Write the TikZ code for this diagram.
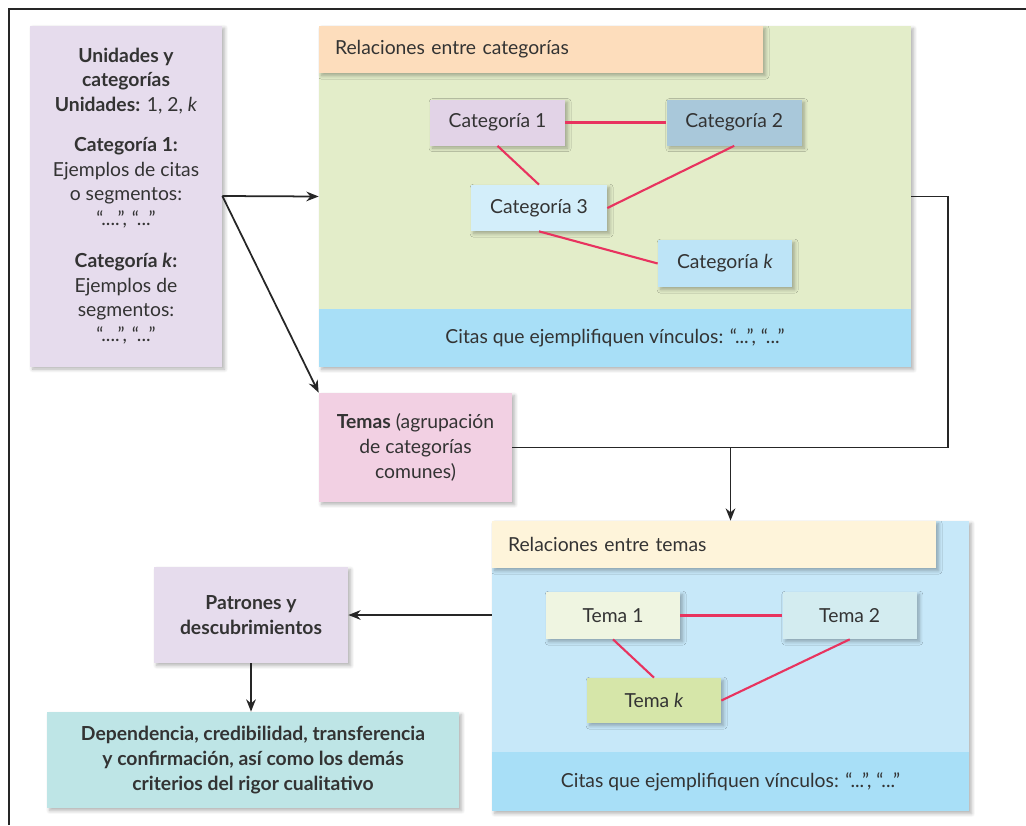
\documentclass[tikz,border=0pt]{standalone}
\usepackage{fontspec}
\setmainfont{Lato}
\usetikzlibrary{arrows.meta, positioning, shadows.blur}

\definecolor{ink}{HTML}{333333}
\definecolor{lila}{HTML}{E6DCED}
\definecolor{greenbg}{HTML}{E3EDC9}
\definecolor{peach}{HTML}{FDDDBC}
\definecolor{stripblue}{HTML}{A8DFF7}
\definecolor{catone}{HTML}{E2D3E7}
\definecolor{cattwo}{HTML}{A9C8DA}
\definecolor{catthree}{HTML}{D3EEFA}
\definecolor{catk}{HTML}{BDE4F7}
\definecolor{rosa}{HTML}{F2D0E3}
\definecolor{bluebg}{HTML}{C7E8F9}
\definecolor{cream}{HTML}{FEF4DA}
\definecolor{temone}{HTML}{EFF5E1}
\definecolor{temtwo}{HTML}{D3ECF0}
\definecolor{temk}{HTML}{D6E6A9}
\definecolor{teal}{HTML}{BEE5E6}
\definecolor{pinkline}{HTML}{E8335F}

\begin{document}
\begin{tikzpicture}[x=0.02cm, y=-0.02cm, >={Stealth[length=7pt, width=5.5pt]},
    font=\fontsize{11}{14}\selectfont,
    wh/.style 2 args={minimum width=#1*0.02cm, minimum height=#2*0.02cm},
    flat/.style={fill=#1, inner sep=0pt, align=center, text=ink},
    box/.style={flat=#1, blur shadow={shadow xshift=1.5pt, shadow yshift=-1.5pt,
        shadow blur steps=6, shadow opacity=30}},
    head/.style={box=#1, align=left, inner xsep=0.32cm, text width=8.24cm,
        minimum height=0.94cm},
    link/.style={draw=pinkline, line width=1.2pt},
    flow/.style={draw=black!85, line width=1pt, ->}]
    \useasboundingbox (0,0) rectangle (1026,825);
    \draw[line width=1.2pt, black!85] (9,825) -- (9,9) -- (1026,9);

    % left column
    \node[box=lila, wh={192}{341}] (units) at (126,196) {%
        \textbf{Unidades y}\\ \textbf{categorías}\\ \textbf{Unidades:} 1, 2, \textit{k}\\[9pt]
        \textbf{Categoría 1:}\\ Ejemplos de citas\\ o segmentos:\\ “....”, “...”\\[10pt]
        \textbf{Categoría \textit{k}:}\\ Ejemplos de\\ segmentos:\\ “....”, “...”};

    % relaciones entre categorias
    \node[box=greenbg, wh={592}{341}] (relcat) at (615,196.5) {};
    \node[flat=stripblue, wh={592}{58}, anchor=south] (citcat) at (relcat.south)
        {Citas que ejemplifiquen vínculos: “...”, “...”};
    \node[head=peach, anchor=north west] (hcat) at (relcat.north west) {Relaciones entre categorías};
    \node[box=catone, wh={135}{46}] (cat1) at (497.5,122.5) {Categoría 1};
    \node[box=cattwo, wh={135}{46}, right=2.02cm of cat1] (cat2) {Categoría 2};
    \node[box=catthree, wh={136}{46}] (cat3) at (539,208) {Categoría 3};
    \node[box=catk, wh={134}{47}] (catk) at (725,263.5) {Categoría \textit{k}};

    \node[box=rosa, wh={193}{109}] (temas) at (415.5,447.5)
        {\textbf{Temas} (agrupación\\ de categorías\\ comunes)};

    % relaciones entre temas
    \node[box=bluebg, wh={477}{290}] (reltem) at (730.5,666) {};
    \node[flat=stripblue, wh={477}{59}, anchor=south] (citem) at (reltem.south)
        {Citas que ejemplifiquen vínculos: “...”, “...”};
    \node[head=cream, anchor=north west] (htem) at (reltem.north west) {Relaciones entre temas};
    \node[box=temone, wh={134}{47}] (tema1) at (613,615.5) {Tema 1};
    \node[box=temtwo, wh={134}{47}, right=2.04cm of tema1] (tema2) {Tema 2};
    \node[box=temk, wh={134}{45}] (temak) at (654,700.5) {Tema \textit{k}};

    \node[box=lila, wh={194}{96}] (patr) at (251,615) {\textbf{Patrones y}\\ \textbf{descubrimientos}};
    \node[box=teal, wh={412}{96}] (dep) at (253,760)
        {\textbf{Dependencia, credibilidad, transferencia}\\
         \textbf{y confirmación, así como los demás}\\
         \textbf{criterios del rigor cualitativo}};

    % links
    \draw[link, line width=1.7pt] (cat1.east) -- (cat2.west);
    \draw[link] (cat1.south) -- (cat3.north);
    \draw[link] (cat2.south) -- (cat3.east);
    \draw[link] (cat3.south) -- (catk.west);
    \draw[link, line width=1.7pt] (tema1.east) -- (tema2.west);
    \draw[link] (tema1.south) -- (temak.north);
    \draw[link] (tema2.south) -- (temak.east);

    % flow
    \draw[flow] (units.east) -- (relcat.west);
    \draw[flow] (units.east) -- (temas.north west);
    \draw[draw=black!85, line width=1pt] (relcat.east) -- ++(37,0) |- (temas.east);
    \draw[flow] (temas.east -| reltem.north) -- (reltem.north);
    \draw[flow] (reltem.west |- patr.east) -- (patr.east);
    \draw[flow] (patr.south) -- (patr.south |- dep.north);
\end{tikzpicture}
\end{document}
